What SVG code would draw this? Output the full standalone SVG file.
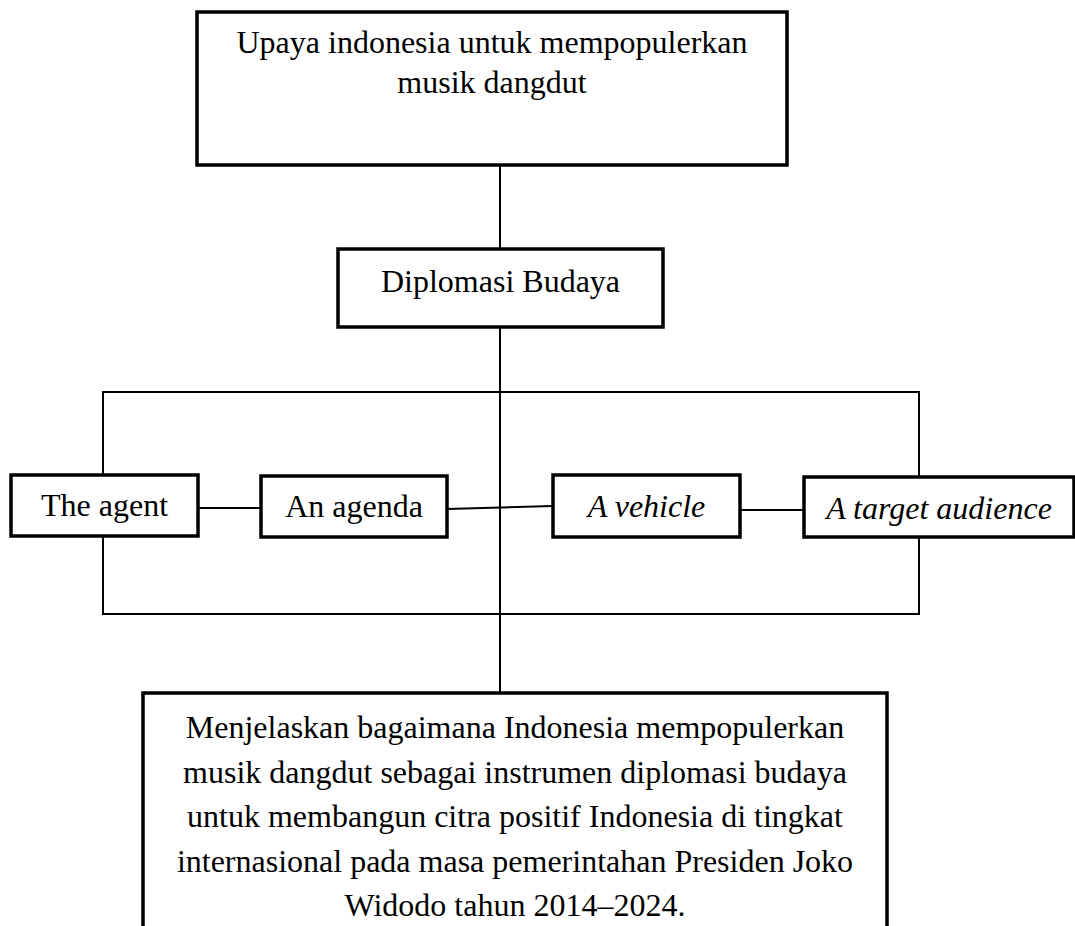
<svg xmlns="http://www.w3.org/2000/svg" width="1075" height="926" viewBox="0 0 1075 926">
<style>
.box{fill:#fff;stroke:#000;stroke-width:3.5}
.ln{stroke:#000;stroke-width:2;fill:none}
text{font-family:"Liberation Serif","Times New Roman",serif;font-size:32px;fill:#000;text-anchor:middle}
.it{font-style:italic}
</style>
<rect width="1075" height="926" fill="#fff"/>
<g id="connectors">
<line class="ln" x1="500" y1="165" x2="500" y2="249"/>
<line class="ln" x1="500" y1="327" x2="500" y2="693"/>
<polyline class="ln" points="103,475 103,392 919,392 919,477"/>
<polyline class="ln" points="103,536 103,614 919,614 919,536"/>
<line class="ln" x1="198" y1="508" x2="261" y2="508"/>
<line class="ln" x1="447" y1="509" x2="553" y2="506"/>
<line class="ln" x1="740" y1="510" x2="804" y2="510"/>
</g>
<g id="n-top">
<rect class="box" x="197" y="12" width="590" height="153"/>
<text x="492" y="53">Upaya indonesia untuk mempopulerkan</text>
<text x="492" y="93">musik dangdut</text>
</g>
<g id="n-diplomasi">
<rect class="box" x="338" y="249" width="325" height="78"/>
<text x="500.5" y="292">Diplomasi Budaya</text>
</g>
<g id="n-agent">
<rect class="box" x="11" y="475" width="187" height="61"/>
<text x="104.5" y="516">The agent</text>
</g>
<g id="n-agenda">
<rect class="box" x="261" y="476" width="186" height="61"/>
<text x="354" y="517">An agenda</text>
</g>
<g id="n-vehicle">
<rect class="box" x="553" y="475" width="187" height="62"/>
<text class="it" x="646.5" y="517">A vehicle</text>
</g>
<g id="n-audience">
<rect class="box" x="804" y="477" width="270" height="60"/>
<text class="it" x="939" y="519">A target audience</text>
</g>
<g id="n-bottom">
<rect class="box" x="143" y="693" width="744" height="260"/>
<text x="515" y="738">Menjelaskan bagaimana Indonesia mempopulerkan</text>
<text x="515" y="782.5">musik dangdut sebagai instrumen diplomasi budaya</text>
<text x="515" y="827">untuk membangun citra positif Indonesia di tingkat</text>
<text x="515" y="871.5">internasional pada masa pemerintahan Presiden Joko</text>
<text x="515" y="916">Widodo tahun 2014–2024.</text>
</g>
</svg>
